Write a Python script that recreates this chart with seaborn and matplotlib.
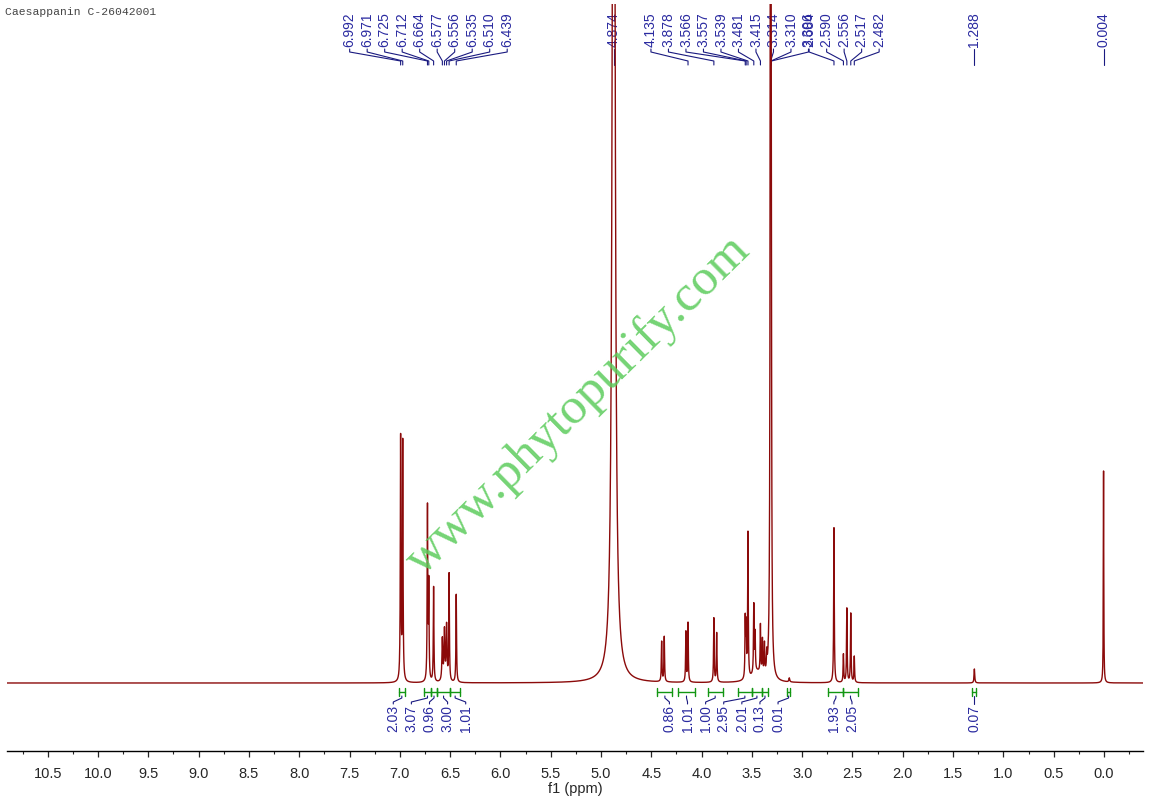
import numpy as np
import pandas as pd
import seaborn as sns
import matplotlib.pyplot as plt
from matplotlib.ticker import MultipleLocator

# peaks: shift (ppm), height above baseline, half width (ppm)
peak_ppm = [6.992, 6.971, 6.725, 6.712, 6.664, 6.577, 6.556, 6.535, 6.510, 6.439,
            4.874, 4.397, 4.371, 4.156, 4.135, 3.878, 3.850,
            3.566, 3.557, 3.539, 3.481, 3.468, 3.415, 3.395, 3.375, 3.352, 3.450,
            3.314, 3.310, 3.306, 3.128,
            2.684, 2.590, 2.556, 2.517, 2.482, 1.288, 0.004]
peak_height = [243, 238, 173, 95, 95, 42, 50, 55, 107, 88,
               1500, 40, 45, 50, 59, 64, 49,
               58, 50, 145, 68, 38, 48, 34, 30, 17, 10,
               1500, 250, 120, 4,
               155, 28, 74, 69, 26, 14, 212]
peak_width = [0.0035, 0.0035, 0.0035, 0.0035, 0.0035, 0.005, 0.005, 0.005, 0.0035, 0.0035,
              0.0129, 0.0035, 0.0035, 0.0035, 0.0035, 0.0035, 0.0035,
              0.0035, 0.0035, 0.0035, 0.0035, 0.0035, 0.0035, 0.0035, 0.0035, 0.0035, 0.06,
              0.0035, 0.0035, 0.0035, 0.005,
              0.0035, 0.0035, 0.0035, 0.0035, 0.0035, 0.004, 0.0025]

# picked peak labels (top), grouped as in the plot
label_groups = [
    [6.992, 6.971, 6.725, 6.712, 6.664, 6.577, 6.556, 6.535, 6.510, 6.439],
    [4.874],
    [4.135, 3.878, 3.566, 3.557, 3.539, 3.481, 3.415, 3.314, 3.310, 3.306],
    [2.684, 2.590, 2.556, 2.517, 2.482],
    [1.288],
    [0.004],
]

# integrals (from ppm, to ppm, value), grouped
integral_groups = [
    [(7.01, 6.95, 2.03), (6.76, 6.69, 3.07), (6.69, 6.63, 0.96), (6.63, 6.50, 3.00), (6.50, 6.40, 1.01)],
    [(4.44, 4.29, 0.86), (4.23, 4.07, 1.01), (3.94, 3.79, 1.00), (3.64, 3.50, 2.95),
     (3.50, 3.40, 2.01), (3.40, 3.34, 0.13), (3.15, 3.12, 0.01)],
    [(2.74, 2.59, 1.93), (2.59, 2.45, 2.05)],
    [(1.31, 1.27, 0.07)],
]

title = "Caesappanin C-26042001"
watermark = "www.phytopurify.com"

sns.set_style("white")
plt.rcParams['font.family'] = ['Liberation Sans', 'DejaVu Sans']

# build the spectrum from the peak list
ppm = np.arange(-0.388, 10.905, 0.0005)
intensity = np.zeros_like(ppm)
for p, h, w in zip(peak_ppm, peak_height, peak_width):
    intensity += h * w ** 2 / ((ppm - p) ** 2 + w ** 2)
df = pd.DataFrame({'ppm': ppm, 'intensity': intensity})

fig = plt.figure(figsize=(11.51, 8.03), dpi=100)
ax = fig.add_axes([7 / 1151, 51 / 803, 1136 / 1151, 747 / 803])

sns.lineplot(data=df, x='ppm', y='intensity', ax=ax, color='#8b0a0a', lw=1.0,
             estimator=None, sort=False, zorder=4)

ax.set_xlim(10.905, -0.388)
ax.set_ylim(-68, 679)

blue_txt = '#2a2aa0'
blue_ln = '#1a1a80'
green = '#129612'
step = 0.174

# peak labels at the top
for grp in label_groups:
    n = len(grp)
    centre = (grp[0] + grp[-1]) / 2
    for i, p in enumerate(grp):
        lx = p if n == 1 else centre + ((n - 1) / 2 - i) * step
        if n == 1:
            ax.plot([p, p], [634, 618], color=blue_ln, lw=0.8, clip_on=False, zorder=3)
        else:
            ax.plot([lx, lx, p, p], [634, 631, 622, 618], color=blue_ln, lw=0.8,
                    clip_on=False, zorder=3)
        ax.text(lx, 637, f"{p:.3f}", rotation=90, ha='center', va='bottom',
                fontsize=10, color=blue_txt, zorder=3)

# integrals under the baseline
bstep = 0.18
for grp in integral_groups:
    n = len(grp)
    centre = (grp[0][0] + grp[-1][1]) / 2
    for i, (a, b, v) in enumerate(grp):
        lx = (a + b) / 2 if n == 1 else centre + ((n - 1) / 2 - i) * bstep
        mid = (a + b) / 2
        ax.plot([a, b], [-9, -9], color=green, lw=1.0, clip_on=False)
        ax.plot([a, a], [-5, -13], color=green, lw=1.0, clip_on=False)
        ax.plot([b, b], [-5, -13], color=green, lw=1.0, clip_on=False)
        ax.plot([mid, mid, lx, lx], [-13, -15, -19, -21], color=blue_ln, lw=0.8, clip_on=False)
        ax.text(lx, -21, f"{v:.2f}", rotation=90, ha='center', va='top',
                fontsize=10, color=blue_txt)

# axis styling
for s in ['top', 'left', 'right']:
    ax.spines[s].set_visible(False)
ax.spines['bottom'].set_linewidth(1.0)
ax.spines['bottom'].set_color('black')
ax.set_yticks([])
ax.set_ylabel('')
ticks = np.arange(0, 10.51, 0.5)
ax.set_xticks(ticks)
ax.set_xticklabels([f"{t:.1f}" for t in ticks], fontsize=10.5)
ax.xaxis.set_minor_locator(MultipleLocator(0.25))
ax.tick_params(axis='x', which='major', direction='out', length=4.5, width=0.9, pad=6, bottom=True)
ax.tick_params(axis='x', which='minor', direction='out', length=2.5, width=0.8, bottom=True)
ax.set_xlabel("f1 (ppm)", fontsize=10.5, labelpad=1)

fig.text(5 / 1151, 1 - 12 / 803, title, ha='left', va='center', fontsize=8.2,
         family='Liberation Mono', color='#444444')
fig.text(578 / 1151, 1 - 405 / 803, watermark, rotation=44.5, ha='center', va='center',
         rotation_mode='anchor', fontsize=37, family='Liberation Serif',
         color='#5ccc5c', alpha=0.85, zorder=1)

fig.savefig("out.png", dpi=100)
